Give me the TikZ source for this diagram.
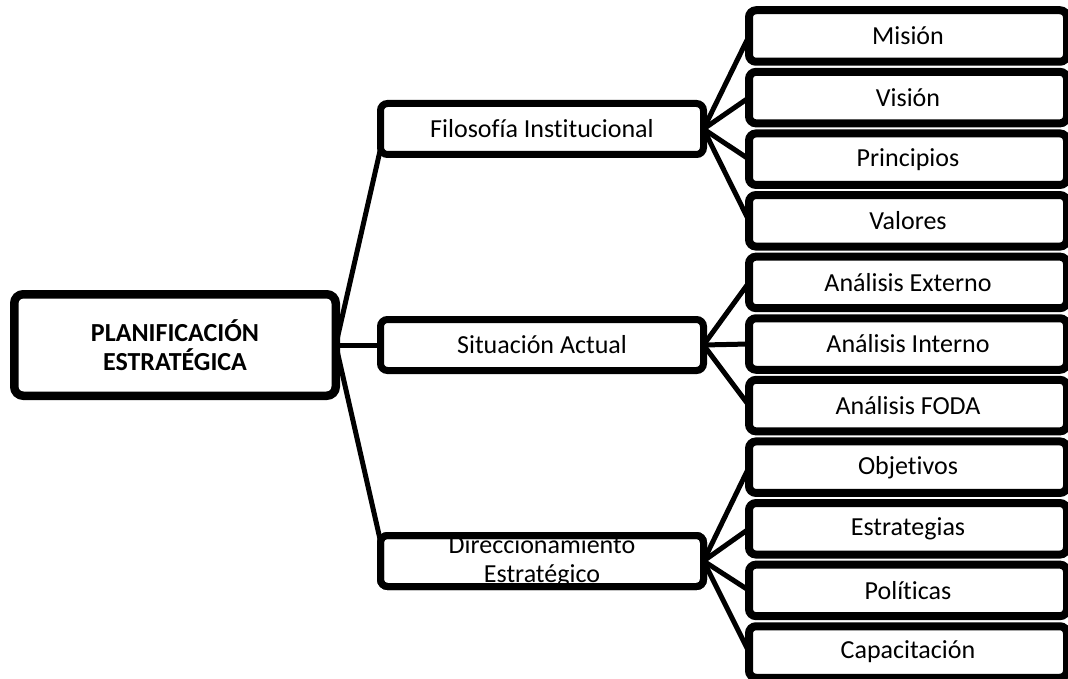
\documentclass[tikz,border=0pt]{standalone}
\usepackage{fontspec}
\setmainfont[Ligatures=NoCommon]{Carlito}
\usetikzlibrary{shadows,backgrounds}
\tikzset{
  boxshadow/.style={drop shadow={shadow xshift=2pt,shadow yshift=-3pt,opacity=0.3,fill=black}},
  rootbox/.style={draw=black,fill=white,line width=8.5pt,rounded corners=9pt,outer sep=0pt,
    minimum width=321.5pt,minimum height=101.5pt,inner sep=0pt,align=center,
    font=\fontsize{26}{29}\selectfont\bfseries,boxshadow},
  midbox/.style={draw=black,fill=white,line width=7pt,rounded corners=7pt,outer sep=0pt,
    minimum width=323pt,minimum height=51pt,inner sep=0pt,
    font=\fontsize{26}{29}\selectfont,boxshadow},
  midframe/.style={draw=black,line width=7pt,rounded corners=7pt},
  leafbox/.style={draw=black,fill=white,line width=8pt,rounded corners=7pt,outer sep=0pt,
    minimum width=318pt,minimum height=51.5pt,inner sep=0pt,
    font=\fontsize{26}{29}\selectfont,boxshadow},
  txt/.style={font=\fontsize{26}{29}\selectfont,align=center,inner sep=0pt},
  link/.style={draw=black,line width=5pt}
}
\begin{document}
\begin{tikzpicture}[x=1pt,y=-1pt]
\useasboundingbox (0,0) rectangle (1068,679);
% root
\node[rootbox] (r) at (175,345) {PLANIFICACIÓN\\ESTRATÉGICA};
% middle
\node[midbox] (f) at (542,129) {Filosofía Institucional};
\node[midbox] (s) at (542,345) {Situación Actual};
\node[midbox] (d) at (542,561) {};
\node[txt] (dt) at (d.center) {Direccionamiento\\Estratégico};
\draw[midframe] (d.south west) rectangle (d.north east);
% leaves
\node[leafbox] (l1) at (908,36.0) {Misión};
\node[leafbox] (l2) at (908,97.6) {Visión};
\node[leafbox] (l3) at (908,159.2) {Principios};
\node[leafbox] (l4) at (908,220.8) {Valores};
\node[leafbox] (l5) at (908,282.4) {Análisis Externo};
\node[leafbox] (l6) at (908,344.0) {Análisis Interno};
\node[leafbox] (l7) at (908,405.6) {Análisis FODA};
\node[leafbox] (l8) at (908,467.2) {Objetivos};
\node[leafbox] (l9) at (908,528.8) {Estrategias};
\node[leafbox] (l10) at (908,590.4) {Políticas};
\node[leafbox] (l11) at (908,652.0) {Capacitación};
% connectors
\begin{scope}[on background layer]
\draw[link] (r.east) -- (f.-173);
\draw[link] (r.east) -- (s.west);
\draw[link] (r.east) -- (d.173);
\foreach \n in {l1,l2,l3,l4} \draw[link] (f.east) -- (\n.west);
\foreach \n in {l5,l6,l7} \draw[link] (s.east) -- (\n.west);
\foreach \n in {l8,l9,l10,l11} \draw[link] (d.east) -- (\n.west);
\end{scope}
\end{tikzpicture}
\end{document}
